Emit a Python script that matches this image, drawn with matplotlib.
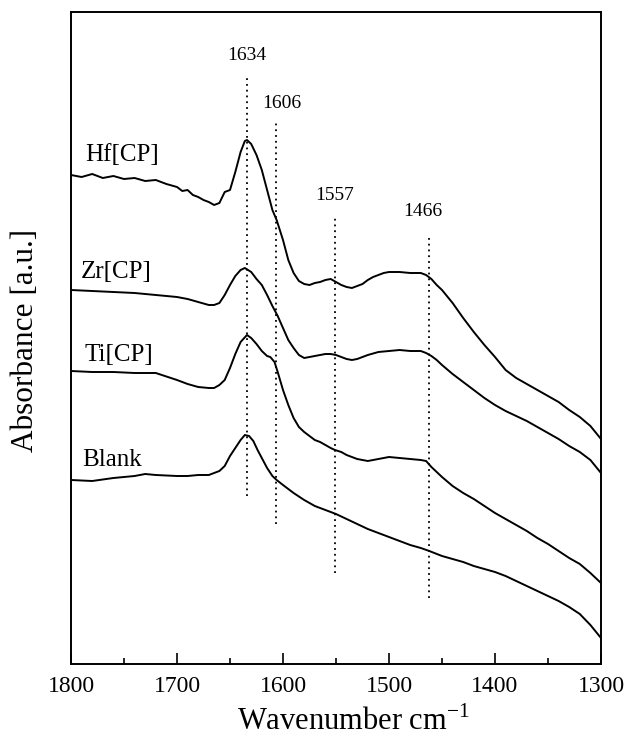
import matplotlib
matplotlib.use("Agg")
import matplotlib.pyplot as plt
from matplotlib.ticker import MultipleLocator

plt.rcParams["font.family"] = ["Liberation Serif", "DejaVu Serif"]
plt.rcParams["mathtext.fontset"] = "custom"
plt.rcParams["mathtext.rm"] = "Liberation Serif"

# IR spectra (absorbance, arbitrary units, stacked with offsets)
hf_wn = [1800, 1790, 1780, 1770, 1760, 1750, 1740, 1730, 1720, 1710, 1700, 1695,
         1690, 1685, 1680, 1675, 1670, 1665, 1660, 1655, 1650, 1645, 1640, 1636,
         1634, 1630, 1625, 1620, 1615, 1610, 1606, 1600, 1595, 1590, 1585, 1580,
         1575, 1570, 1565, 1560, 1555, 1550, 1545, 1540, 1535, 1530, 1525, 1520,
         1515, 1510, 1505, 1500, 1490, 1480, 1470, 1465, 1460, 1455, 1450, 1440,
         1430, 1420, 1410, 1400, 1390, 1380, 1370, 1360, 1350, 1340, 1330, 1320,
         1310, 1300]
hf_abs = [4.89, 4.87, 4.90, 4.86, 4.88, 4.85, 4.86, 4.83, 4.84, 4.80, 4.77, 4.73,
          4.74, 4.69, 4.67, 4.64, 4.62, 4.59, 4.61, 4.72, 4.74, 4.92, 5.12, 5.23,
          5.24, 5.20, 5.09, 4.94, 4.74, 4.54, 4.44, 4.24, 4.04, 3.91, 3.83, 3.80,
          3.79, 3.81, 3.82, 3.84, 3.85, 3.82, 3.79, 3.77, 3.76, 3.78, 3.80, 3.84,
          3.87, 3.89, 3.91, 3.92, 3.92, 3.91, 3.91, 3.89, 3.85, 3.79, 3.74, 3.61,
          3.46, 3.32, 3.19, 3.07, 2.94, 2.86, 2.80, 2.74, 2.68, 2.62, 2.54, 2.47,
          2.38, 2.25]

zr_wn = [1800, 1780, 1760, 1740, 1720, 1700, 1690, 1680, 1670, 1665, 1660, 1655,
         1650, 1645, 1640, 1636, 1630, 1625, 1620, 1615, 1610, 1605, 1600, 1595,
         1590, 1585, 1580, 1575, 1570, 1560, 1555, 1550, 1545, 1540, 1535, 1530,
         1520, 1510, 1500, 1490, 1480, 1470, 1465, 1460, 1455, 1450, 1440, 1430,
         1420, 1410, 1400, 1390, 1380, 1370, 1360, 1350, 1340, 1330, 1320, 1310,
         1300]
zr_abs = [3.74, 3.73, 3.72, 3.71, 3.69, 3.67, 3.65, 3.62, 3.59, 3.59, 3.61, 3.69,
          3.79, 3.88, 3.94, 3.96, 3.92, 3.85, 3.79, 3.69, 3.58, 3.48, 3.36, 3.24,
          3.16, 3.09, 3.06, 3.07, 3.08, 3.10, 3.10, 3.09, 3.07, 3.05, 3.04, 3.05,
          3.09, 3.12, 3.13, 3.14, 3.13, 3.13, 3.11, 3.08, 3.04, 2.99, 2.90, 2.82,
          2.74, 2.66, 2.59, 2.53, 2.48, 2.43, 2.37, 2.31, 2.25, 2.18, 2.12, 2.04,
          1.91]

ti_wn = [1800, 1780, 1760, 1740, 1720, 1700, 1690, 1680, 1670, 1665, 1660, 1655,
         1650, 1645, 1640, 1634, 1630, 1625, 1620, 1615, 1612, 1608, 1605, 1600,
         1595, 1590, 1585, 1580, 1575, 1570, 1565, 1560, 1555, 1551, 1545, 1540,
         1530, 1520, 1510, 1500, 1490, 1480, 1470, 1465, 1460, 1450, 1440, 1430,
         1420, 1410, 1400, 1390, 1380, 1370, 1360, 1350, 1340, 1330, 1320, 1310,
         1300]
ti_abs = [2.93, 2.92, 2.92, 2.91, 2.91, 2.84, 2.80, 2.77, 2.76, 2.76, 2.79, 2.84,
          2.96, 3.10, 3.22, 3.29, 3.26, 3.20, 3.13, 3.08, 3.07, 3.02, 2.92, 2.74,
          2.59, 2.46, 2.37, 2.32, 2.28, 2.24, 2.22, 2.19, 2.16, 2.14, 2.12, 2.09,
          2.05, 2.03, 2.05, 2.07, 2.06, 2.05, 2.04, 2.03, 1.97, 1.87, 1.78, 1.71,
          1.65, 1.58, 1.51, 1.45, 1.39, 1.33, 1.26, 1.20, 1.13, 1.06, 1.00, 0.91,
          0.81]

blank_wn = [1800, 1780, 1760, 1740, 1730, 1720, 1700, 1690, 1680, 1670, 1665, 1660,
            1655, 1650, 1645, 1640, 1636, 1632, 1628, 1624, 1620, 1615, 1610, 1606,
            1600, 1590, 1580, 1570, 1560, 1550, 1540, 1530, 1520, 1510, 1500, 1490,
            1480, 1470, 1462, 1450, 1440, 1430, 1420, 1410, 1400, 1390, 1380, 1370,
            1360, 1350, 1340, 1330, 1320, 1310, 1300]
blank_abs = [1.84, 1.83, 1.86, 1.88, 1.90, 1.89, 1.88, 1.88, 1.89, 1.89, 1.91, 1.93,
             1.98, 2.08, 2.16, 2.24, 2.29, 2.28, 2.23, 2.14, 2.06, 1.96, 1.88, 1.84,
             1.79, 1.71, 1.64, 1.58, 1.54, 1.50, 1.45, 1.40, 1.35, 1.31, 1.27, 1.23,
             1.19, 1.16, 1.13, 1.08, 1.05, 1.02, 0.98, 0.95, 0.92, 0.88, 0.83, 0.78,
             0.73, 0.68, 0.63, 0.57, 0.50, 0.39, 0.26]

# Peak markers: wavenumber label, line position, line top/bottom, label height
peak_labels = ["1634", "1606", "1557", "1466"]
peak_pos = [1634, 1607, 1551, 1462]
peak_top = [5.86, 5.44, 4.49, 4.27]
peak_bottom = [1.68, 1.40, 0.91, 0.66]
peak_label_x = [1634, 1601, 1551, 1468]
peak_label_y = [6.08, 5.61, 4.68, 4.52]

series_names = ["Hf[CP]", "Zr[CP]", "Ti[CP]", "Blank"]
name_x = [1787, 1791, 1787, 1789]
name_y = [5.09, 3.92, 3.09, 2.04]

fig = plt.figure(figsize=(6.29, 7.44), dpi=100)
ax = fig.add_axes([71 / 629, 1 - 664 / 744, 530 / 629, 652 / 744])

for wn, ab in [(hf_wn, hf_abs), (zr_wn, zr_abs), (ti_wn, ti_abs), (blank_wn, blank_abs)]:
    ax.plot(wn, ab, color="black", lw=1.4)

for x, lo, hi in zip(peak_pos, peak_bottom, peak_top):
    ax.plot([x, x], [lo, hi], color="black", lw=1.3, linestyle=(0, (1, 2.2)))

for lab, x, y in zip(peak_labels, peak_label_x, peak_label_y):
    ax.text(x, y, lab, ha="center", va="center", fontsize=14)

for name, x, y in zip(series_names, name_x, name_y):
    ax.text(x, y, name, ha="left", va="center", fontsize=18)

ax.set_xlim(1800, 1300)
ax.set_ylim(0, 6.52)
ax.set_yticks([])
ax.xaxis.set_major_locator(MultipleLocator(100))
ax.xaxis.set_minor_locator(MultipleLocator(50))
ax.tick_params(axis="x", which="major", direction="in", length=8, width=1.2,
               labelsize=17, pad=9)
ax.tick_params(axis="x", which="minor", direction="in", length=4, width=1.2)
ax.tick_params(top=False, which="both")
for sp in ax.spines.values():
    sp.set_linewidth(1.4)

ax.set_xlabel(r"Wavenumber cm$^{\mathregular{-1}}$", fontsize=22, labelpad=4)
ax.xaxis.set_label_coords(0.532, -0.065)
ax.set_ylabel("Absorbance [a.u.]", fontsize=22.5)
ax.yaxis.set_label_coords(-0.058, 0.496)

fig.savefig("out.png", dpi=100)
